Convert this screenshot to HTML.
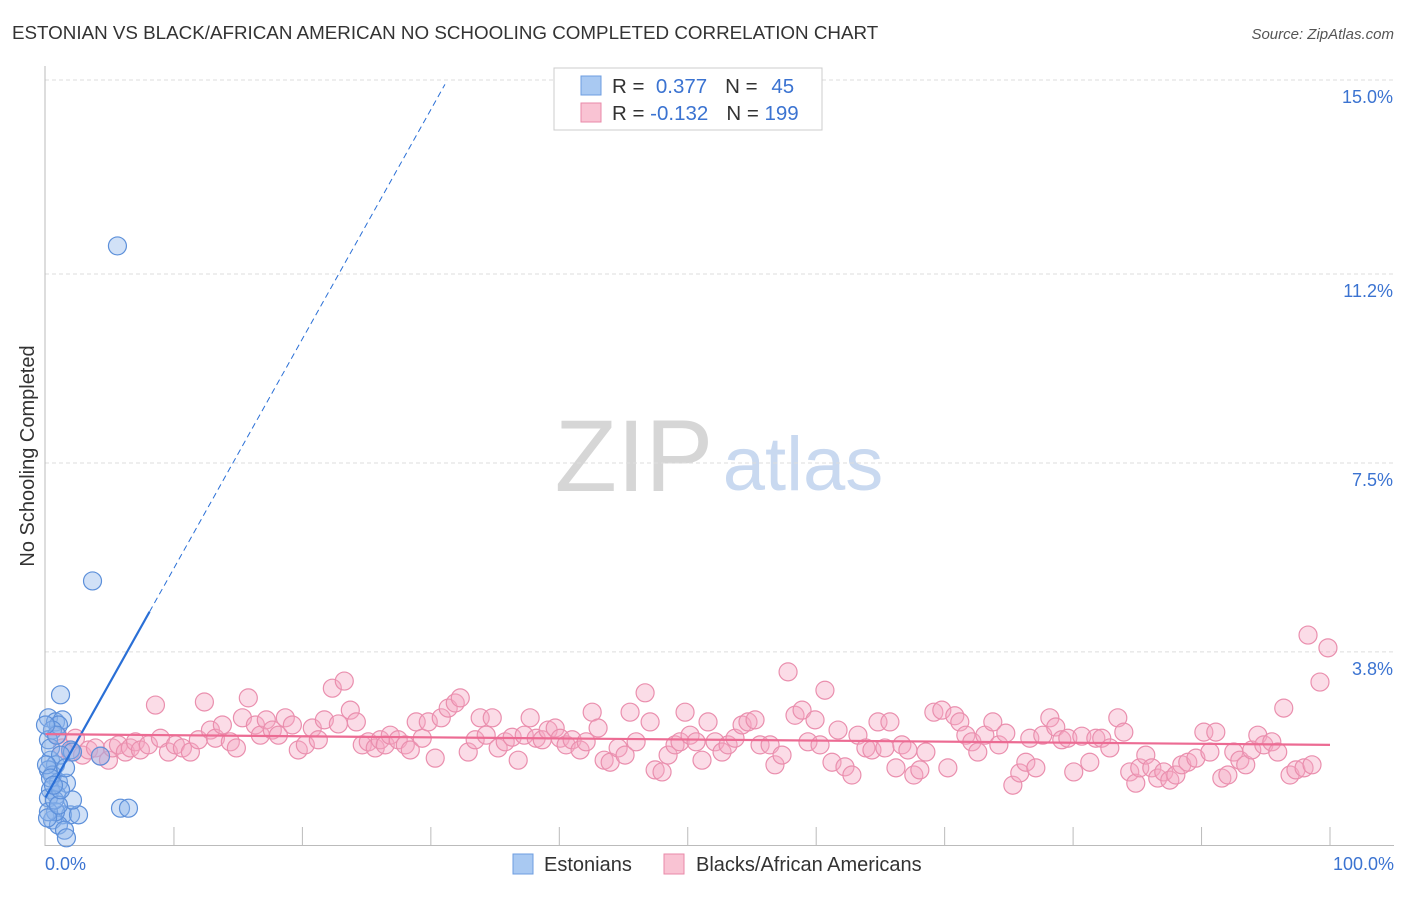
<!DOCTYPE html>
<html><head><meta charset="utf-8"><style>
body{margin:0;background:#fff;font-family:"Liberation Sans",sans-serif;}
svg text{font-family:"Liberation Sans",sans-serif;}
</style></head><body>
<svg id="chart" width="1406" height="892" xmlns="http://www.w3.org/2000/svg">
<text x="12" y="39" font-size="18.8" fill="#333">ESTONIAN VS BLACK/AFRICAN AMERICAN NO SCHOOLING COMPLETED CORRELATION CHART</text>
<text x="1394" y="39" font-size="15" fill="#555" text-anchor="end" font-style="italic">Source: ZipAtlas.com</text>
<text transform="translate(34,456) rotate(-90)" font-size="20" fill="#333" text-anchor="middle">No Schooling Completed</text>
<g>
<text x="634" y="491" font-size="102" fill="#d6d6d6" font-family="Liberation Serif,serif" text-anchor="middle">ZIP</text>
<text x="803" y="490" font-size="76" fill="#c9d9f0" text-anchor="middle">atlas</text>
</g>
<g id="grid"></g><g id="axes"></g><g id="pink"></g><g id="blue"></g><g id="lines"></g>
<g>
<rect x="554" y="68" width="268" height="62" fill="#fff" stroke="#ccc"/>
<rect x="581" y="76" width="20" height="19" fill="#a9c9f2" stroke="#6d9de0"/>
<rect x="581" y="103" width="20" height="19" fill="#f9c3d3" stroke="#e98aa8"/>
<text x="612" y="93" font-size="20.5" fill="#333">R = <tspan fill="#3b73d1">&#160;0.377</tspan><tspan fill="#333" dx="18">N = </tspan><tspan fill="#3b73d1" dx="8">45</tspan></text>
<text x="612" y="120" font-size="20.5" fill="#333">R = <tspan fill="#3b73d1">-0.132</tspan><tspan fill="#333" dx="18">N = </tspan><tspan fill="#3b73d1">199</tspan></text>
</g>
<g>
<rect x="513" y="854" width="20" height="20" fill="#a9c9f2" stroke="#6d9de0"/>
<text x="544" y="871" font-size="20" fill="#333">Estonians</text>
<rect x="664" y="854" width="20" height="20" fill="#f9c3d3" stroke="#e98aa8"/>
<text x="696" y="871" font-size="20" fill="#333">Blacks/African Americans</text>
</g>
</svg>
<script>
const yTicks=[3.8,7.5,11.2,15.0];
const yTickLabels=["3.8%","7.5%","11.2%","15.0%"];
const xTicks=[0,10,20,30,40,50,60,70,80,90,100];
const blueX=[5.6,3.66,1.17,0.23,0.78,1.32,1.01,0.54,0.23,1.95,2.1,4.28,0.39,0.78,0.23,0.54,1.01,1.63,0.39,0.86,0.23,1.32,1.95,2.57,0.54,1.01,1.48,1.63,0.78,5.84,6.46,0.23,0.39,0.86,1.17,0.08,0.7,0.39,0,1.56,2.1,0.16,1.01,1.17,0.62];
const blueY=[11.75,5.19,2.96,2.51,2.43,2.47,2.37,2.27,2.08,1.88,1.84,1.76,1.68,1.59,1.49,1.39,1.25,1.23,1.10,1.00,0.94,0.61,0.61,0.61,0.51,0.41,0.31,0.16,0.67,0.74,0.74,0.67,1.92,2.17,1.78,1.59,0.90,1.33,2.37,1.53,0.90,0.55,0.80,1.10,1.19];
const pinkX=[0.93,1.32,1.95,2.33,2.88,3.35,3.89,4.28,4.9,5.21,5.68,6.22,6.61,7.0,7.39,8.01,8.56,8.95,9.57,10.11,10.66,11.28,11.9,12.37,12.84,13.23,13.77,14.39,14.86,15.33,15.79,16.34,16.73,17.19,17.66,18.13,18.67,19.22,19.68,20.23,20.77,21.24,21.71,22.33,22.8,23.26,23.73,24.2,24.66,25.13,25.67,26.06,26.45,26.84,27.46,28.01,28.4,28.86,29.33,29.8,30.34,30.81,31.35,31.9,32.29,32.91,33.45,33.84,34.31,34.78,35.24,35.79,36.33,36.8,37.27,37.73,38.2,38.67,39.13,39.68,40.07,40.53,41.0,41.62,42.09,42.56,43.02,43.49,43.96,44.58,45.12,45.51,45.98,46.68,47.07,47.46,48.0,48.47,49.01,49.4,49.79,50.18,50.65,51.11,51.58,52.13,52.67,53.14,53.68,54.23,54.69,55.24,55.63,56.41,56.79,57.34,57.81,58.35,58.9,59.36,59.91,60.3,60.68,61.23,61.7,62.24,62.78,63.25,63.87,64.34,64.81,65.35,65.74,66.21,66.67,67.14,67.6,68.07,68.54,69.16,69.78,70.25,70.79,71.18,71.65,72.12,72.58,73.13,73.75,74.22,74.76,75.31,75.85,76.32,76.63,77.1,77.64,78.19,78.65,79.12,79.59,80.05,80.68,81.3,81.77,82.23,82.86,83.48,83.95,84.41,84.88,85.19,85.66,86.13,86.59,87.06,87.53,88.0,88.46,88.93,89.56,90.18,90.65,91.11,91.58,92.05,92.51,92.98,93.44,93.91,94.38,94.85,95.47,95.93,96.4,96.89,97.35,97.98,98.6,98.29,99.22,99.84];
const pinkY=[2.17,1.92,1.84,2.11,1.78,1.88,1.92,1.76,1.68,1.92,1.98,1.84,1.92,2.04,1.88,1.98,2.76,2.11,1.84,1.98,1.92,1.84,2.08,2.82,2.27,2.11,2.37,2.04,1.92,2.51,2.90,2.37,2.17,2.47,2.27,2.17,2.51,2.37,1.88,1.98,2.31,2.08,2.47,3.09,2.39,3.23,2.66,2.43,1.98,2.04,1.92,2.08,1.98,2.17,2.08,1.98,1.88,2.43,2.11,2.43,1.72,2.51,2.70,2.80,2.90,1.84,2.08,2.51,2.17,2.51,1.92,2.04,2.13,1.68,2.17,2.51,2.11,2.08,2.27,2.31,2.11,1.98,2.08,1.88,2.04,2.62,2.31,1.68,1.64,1.92,1.78,2.62,2.04,3.00,2.43,1.49,1.45,1.78,1.98,2.04,2.62,2.17,2.04,1.68,2.43,2.04,1.84,1.98,2.11,2.37,2.43,2.47,1.98,1.98,1.59,1.78,3.41,2.56,2.66,2.04,2.47,1.98,3.05,1.64,2.27,1.55,1.39,2.17,1.92,1.88,2.43,1.92,2.43,1.53,1.98,1.88,1.39,1.49,1.84,2.62,2.66,1.53,2.55,2.43,2.17,2.04,1.84,2.17,2.43,1.98,2.21,1.19,1.43,1.64,2.11,1.53,2.17,2.51,2.33,2.08,2.11,1.45,2.15,1.64,2.11,2.11,1.92,2.51,2.23,1.45,1.23,1.53,1.78,1.53,1.33,1.45,1.29,1.39,1.59,1.64,1.72,2.23,1.84,2.23,1.33,1.39,1.84,1.68,1.59,1.88,2.17,1.98,2.04,1.84,2.70,1.39,1.49,1.53,1.59,4.13,3.21,3.88];
const blueTrend=[0.95,0.449];
const pinkTrend=[2.19,1.98];

const NS="http://www.w3.org/2000/svg";
const X=v=>45.5+v*12.845;
const Y=v=>846-v*51.07;
function mk(tag,attrs,parent){const e=document.createElementNS(NS,tag);for(const k in attrs)e.setAttribute(k,attrs[k]);parent.appendChild(e);return e;}
const grid=document.getElementById('grid'),axes=document.getElementById('axes');
yTicks.forEach((t,i)=>{
  const l=mk('line',{x1:45,x2:1394,y1:Y(t),y2:Y(t),stroke:'#ddd','stroke-dasharray':'4,3'},grid);
  
  
  const tx=mk('text',{x:1393,y:Y(t)+23,'font-size':18,fill:'#3b73d1','text-anchor':'end'},axes);
  tx.textContent=yTickLabels[i];
  
  
});
const ax=mk('line',{x1:45,x2:45,y1:66,y2:846,stroke:'#bbb'},axes);


const bx=mk('line',{x1:45,x2:1394,y1:845.5,y2:845.5,stroke:'#bbb'},axes);


xTicks.forEach(t=>{if(t===0)return;
  const l=mk('line',{x1:X(t),x2:X(t),y1:827,y2:845,stroke:'#bbb'},axes);
  
  
});
const xl0=mk('text',{x:45,y:870,'font-size':18,fill:'#3b73d1'},axes);xl0.textContent='0.0%';


const xl1=mk('text',{x:1394,y:870,'font-size':18,fill:'#3b73d1','text-anchor':'end'},axes);xl1.textContent='100.0%';


const pg=document.getElementById('pink');
pinkX.forEach((x,i)=>{const c=mk('circle',{cx:X(x),cy:Y(pinkY[i]),r:9,fill:'rgba(246,168,194,0.4)',stroke:'#ea8fae','stroke-width':1.2},pg);
  
  });
const bg=document.getElementById('blue');
blueX.forEach((x,i)=>{const c=mk('circle',{cx:X(x),cy:Y(blueY[i]),r:9,fill:'rgba(140,180,236,0.4)',stroke:'#5d90da','stroke-width':1.2},bg);
  
  });
const lg=document.getElementById('lines');
const bt=x=>blueTrend[0]+blueTrend[1]*x;
const l1=mk('line',{x1:X(0),y1:Y(bt(0)),x2:X(8.1),y2:Y(bt(8.1)),stroke:'#2a6fd6','stroke-width':2.2},lg);


const l2=mk('line',{x1:X(8.1),y1:Y(bt(8.1)),x2:X(31.1),y2:Y(bt(31.1)),stroke:'#2a6fd6','stroke-width':1,'stroke-dasharray':'6,4'},lg);


const l3=mk('line',{x1:X(0),y1:Y(pinkTrend[0]),x2:X(100),y2:Y(pinkTrend[1]),stroke:'#ec6b93','stroke-width':2.2},lg);


</script>
</body></html>
